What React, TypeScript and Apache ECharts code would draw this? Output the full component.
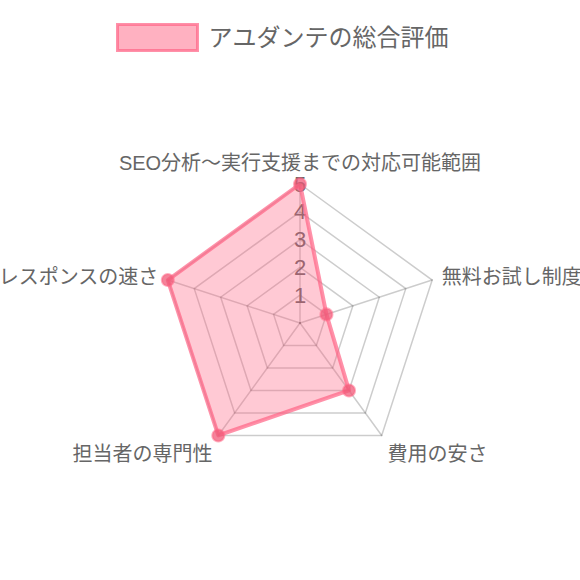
import React, { useEffect, useRef } from 'react';
import * as echarts from 'echarts';

// 参照画像の時計回りの順
const indicatorNames = [
  'SEO分析～実行支援までの対応可能範囲',
  '無料お試し制度',
  '費用の安さ',
  '担当者の専門性',
  'レスポンスの速さ',
];
const scores = [5, 1, 3, 5, 5];
const maxScore = 5;
const seriesName = 'アユダンテの総合評価';
// 下側の2つのラベルは少し下にずらす
const lowerNames = ['費用の安さ', '担当者の専門性'];

const FONT = "'Liberation Sans', 'Noto Sans CJK JP', sans-serif";

const App: React.FC = () => {
  const chartRef = useRef<HTMLDivElement>(null);

  useEffect(() => {
    document.body.style.margin = '0';
    if (!chartRef.current) return;
    const chart = echarts.init(chartRef.current, undefined, { renderer: 'svg' });

    // ECharts のレーダーは反時計回りなので並びを入れ替える
    const order = [0, ...indicatorNames.map((_, i) => i).slice(1).reverse()];
    const names = order.map((i) => indicatorNames[i]);
    const values = order.map((i) => scores[i]);

    const option = {
      animation: false,
      backgroundColor: '#fff',
      legend: {
        top: 18,
        left: 111,
        icon: 'rect',
        itemWidth: 80,
        itemHeight: 26,
        itemStyle: {
          color: 'rgba(255,99,132,0.5)',
          borderColor: 'rgba(255,99,132,0.7)',
          borderWidth: 3,
        },
        textStyle: {
          fontSize: 24,
          color: '#666',
          fontFamily: FONT,
          padding: [0, 0, 0, 6],
        },
        data: [seriesName],
      },
      radar: {
        center: [300, 323],
        radius: 139,
        shape: 'polygon',
        splitNumber: 5,
        nameGap: 10,
        axisName: {
          color: '#666',
          fontSize: 20,
          fontFamily: FONT,
          formatter: (name: string) =>
            lowerNames.includes(name) ? `{low|${name}}` : name,
          rich: {
            low: {
              padding: [20, 0, 0, 0],
              color: '#666',
              fontSize: 20,
              fontFamily: FONT,
            },
          },
        },
        axisLine: { lineStyle: { color: 'rgba(0,0,0,0.2)', width: 1.5 } },
        splitLine: { lineStyle: { color: 'rgba(0,0,0,0.2)', width: 1.5 } },
        splitArea: { show: false },
        axisLabel: { show: false },
        indicator: names.map((name, i) => ({
          name,
          min: 0,
          max: maxScore,
          axisLabel: {
            show: i === 0,
            margin: 0,
            align: 'center',
            verticalAlign: 'middle',
            color: '#666',
            fontSize: 22,
            fontFamily: FONT,
            formatter: (v: number) => (v === 0 ? '' : String(v)),
          },
        })),
      },
      series: [
        {
          name: seriesName,
          type: 'radar',
          symbol: 'circle',
          symbolSize: 12,
          lineStyle: { color: 'rgba(255,99,132,0.7)', width: 4 },
          areaStyle: { color: 'rgba(255,99,132,0.5)' },
          itemStyle: {
            color: 'rgba(240,90,120,0.75)',
            borderColor: 'rgba(255,99,132,0.5)',
            borderWidth: 2,
          },
          data: [{ value: values, name: seriesName }],
        },
      ],
    };

    chart.setOption(option);
    return () => {
      chart.dispose();
    };
  }, []);

  return <div ref={chartRef} style={{ width: 580, height: 580 }} />;
};

export default App;
